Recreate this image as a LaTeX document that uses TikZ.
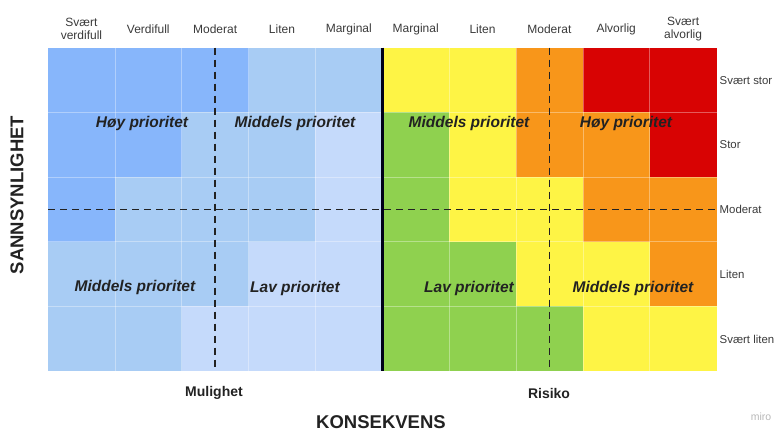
\documentclass[tikz,border=0pt]{standalone}
\usepackage{fontspec}
\setmainfont{Liberation Sans}
\definecolor{bd}{HTML}{87B6FB}
\definecolor{bm}{HTML}{A8CCF4}
\definecolor{bl}{HTML}{C5DAFB}
\definecolor{ye}{HTML}{FEF445}
\definecolor{or}{HTML}{F8961A}
\definecolor{rd}{HTML}{D80303}
\definecolor{gr}{HTML}{8FD14F}
\definecolor{txt}{HTML}{3A3A3A}
\definecolor{ink}{HTML}{222222}
\tikzset{
  axlabel/.style={font=\fontsize{12}{13.5}\selectfont, text=txt, align=center, inner sep=0pt},
  rowlabel/.style={font=\fontsize{11.4}{13}\selectfont, text=txt, anchor=west, inner sep=0pt},
  prio/.style={font=\fontsize{15.5}{17}\selectfont\bfseries\itshape, text=ink, inner sep=0pt},
  group/.style={font=\fontsize{14}{16}\selectfont\bfseries, text=ink, inner sep=0pt},
  title/.style={font=\fontsize{18.5}{20}\selectfont\bfseries, text=ink, inner sep=0pt},
  guide/.style={draw=ink, line width=1.4pt, dash pattern=on 7pt off 5pt},
  cellsep/.style={draw=white, draw opacity=0.35, line width=0.6pt}
}
\begin{document}
\begin{tikzpicture}[x=1pt, y=-1pt]
\useasboundingbox (0,0) rectangle (775,431);
\def\xo{48}\def\yo{47.5}\def\cw{66.85}\def\rh{64.7}
% colour of every cell, row by row from the top
\foreach \row [count=\r from 0] in {
  {bd,bd,bd,bm,bm,ye,ye,or,rd,rd},
  {bd,bd,bm,bm,bl,gr,ye,or,or,rd},
  {bd,bm,bm,bm,bl,gr,ye,ye,or,or},
  {bm,bm,bm,bl,bl,gr,gr,ye,ye,or},
  {bm,bm,bl,bl,bl,gr,gr,gr,ye,ye}} {
  \foreach \c [count=\i from 0] in \row {
    \fill[\c] (\xo+\i*\cw, \yo+\r*\rh) rectangle (\xo+\i*\cw+\cw, \yo+\r*\rh+\rh);
  }
}
% faint separators between cells
\foreach \i in {1,...,9}
  \draw[cellsep] (\xo+\i*\cw, \yo) -- (\xo+\i*\cw, \yo+5*\rh);
\foreach \r in {1,...,4}
  \draw[cellsep] (\xo, \yo+\r*\rh) -- (\xo+10*\cw, \yo+\r*\rh);
% dashed middle guides
\coordinate (vl1) at (\xo+2.5*\cw, \yo);
\coordinate (vl2) at (\xo+2.5*\cw, \yo+5*\rh);
\coordinate (vr1) at (\xo+7.5*\cw, \yo);
\coordinate (vr2) at (\xo+7.5*\cw, \yo+5*\rh);
\coordinate (h1) at (\xo, \yo+2.5*\rh);
\coordinate (h2) at (\xo+10*\cw, \yo+2.5*\rh);
\draw[guide] (vl1) -- (vl2);
\draw[guide] (vr1) -- (vr2);
\draw[guide] (h1) -- (h2);
% divider between opportunity and risk
\coordinate (d1) at (\xo+5*\cw, \yo);
\coordinate (d2) at (\xo+5*\cw, \yo+5*\rh);
\draw[line width=3pt, draw=black!90!blue] (d1) -- (d2);
% consequence headings
\foreach \t [count=\i from 0] in {{Svært\\verdifull},Verdifull,Moderat,Liten,Marginal,Marginal,Liten,Moderat,Alvorlig,{Svært\\alvorlig}}
  \node[axlabel] (col\i) at (\xo+\i*\cw+0.5*\cw, 29) {\t};
% likelihood headings
\foreach \t [count=\r from 0] in {Svært stor,Stor,Moderat,Liten,Svært liten}
  \node[rowlabel] (row\r) at (719.5, \yo+\r*\rh+0.5*\rh+0.5) {\t};
% priority labels
\node[prio] (p1) at (142, 123.5) {Høy prioritet};
\node[prio] (p2) at (295, 123.5) {Middels prioritet};
\node[prio] (p3) at (469, 123.5) {Middels prioritet};
\node[prio] (p4) at (626, 123.5) {Høy prioritet};
\node[prio] (p5) at (135, 287.5) {Middels prioritet};
\node[prio] (p6) at (295, 288.5) {Lav prioritet};
\node[prio] (p7) at (469, 288.5) {Lav prioritet};
\node[prio] (p8) at (633, 288.5) {Middels prioritet};
% axis titles
\node[group] (mul) at (214, 393) {Mulighet};
\node[group] (ris) at (549, 393) {Risiko};
\node[title] (kons) at (381, 422) {KONSEKVENS};
\node[title, rotate=90] (sann) at (17, 195) {SANNSYNLIGHET};
\node[font=\fontsize{10.5}{11}\selectfont, text=black!28, inner sep=0pt] (miro) at (761, 417) {miro};
\end{tikzpicture}
\end{document}
